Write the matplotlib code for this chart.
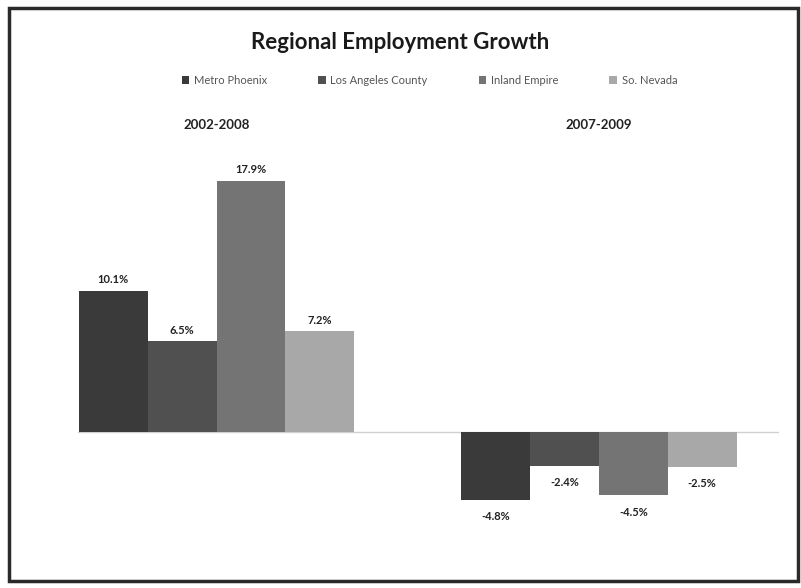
import numpy as np
import matplotlib.pyplot as plt
from matplotlib.patches import Rectangle

periods = ["2002-2008", "2007-2009"]
regions = ["Metro Phoenix", "Los Angeles County", "Inland Empire", "So. Nevada"]
growth = {
    "Metro Phoenix": [10.1, -4.8],
    "Los Angeles County": [6.5, -2.4],
    "Inland Empire": [17.9, -4.5],
    "So. Nevada": [7.2, -2.5],
}
colors = ["#3a3a3a", "#505050", "#747474", "#a8a8a8"]

plt.rcParams['font.family'] = ['Lato', 'DejaVu Sans']

fig = plt.figure(figsize=(8.01, 5.88), dpi=100)
ax = fig.add_axes([0.046, 0.0476, 0.926, 0.697])

x = np.arange(len(periods))
width = 0.18
for i, name in enumerate(regions):
    offs = (i - 1.5) * width
    vals = growth[name]
    bars = ax.bar(x + offs, vals, width, color=colors[i], label=name)
    # negative labels hang a little further below the bar
    for b, v in zip(bars, vals):
        ax.annotate(f"{v:.1f}%", (b.get_x() + b.get_width() / 2, v),
                    xytext=(0, 4 if v >= 0 else -8), textcoords='offset points',
                    ha='center', va='bottom' if v >= 0 else 'top',
                    fontsize=8, fontweight='bold', color='#222222')

ax.axhline(0, color='#d0d0d0', lw=1, xmin=0.055, xmax=1.0, zorder=0)
ax.set_xlim(-0.47, 1.47)
ax.set_ylim(-9.1, 20.1)
ax.set_yticks([])
ax.set_xticks([])
for s in ax.spines.values():
    s.set_visible(False)

# period labels sit above the plot area
for xi, p in zip(x, periods):
    ax.text(xi, 21.9, p, ha='center', va='center', fontsize=9.5,
            fontweight='bold', color='#222222')

fig.text(0.5, 0.927, "Regional Employment Growth", ha='center', va='center',
         fontsize=16, fontweight='bold', color='#1a1a1a')
fig.legend(loc='center', bbox_to_anchor=(0.536, 0.863), ncol=4, frameon=False,
           fontsize=8, handlelength=0.7, handleheight=0.7, columnspacing=4.6,
           handletextpad=0.4, labelcolor='#555555')

fig.patches.append(Rectangle((0.011, 0.012), 0.985, 0.974, transform=fig.transFigure,
                             fill=False, edgecolor='#2a2a2a', lw=2.5))

fig.savefig("out.png", dpi=100, facecolor='white')
